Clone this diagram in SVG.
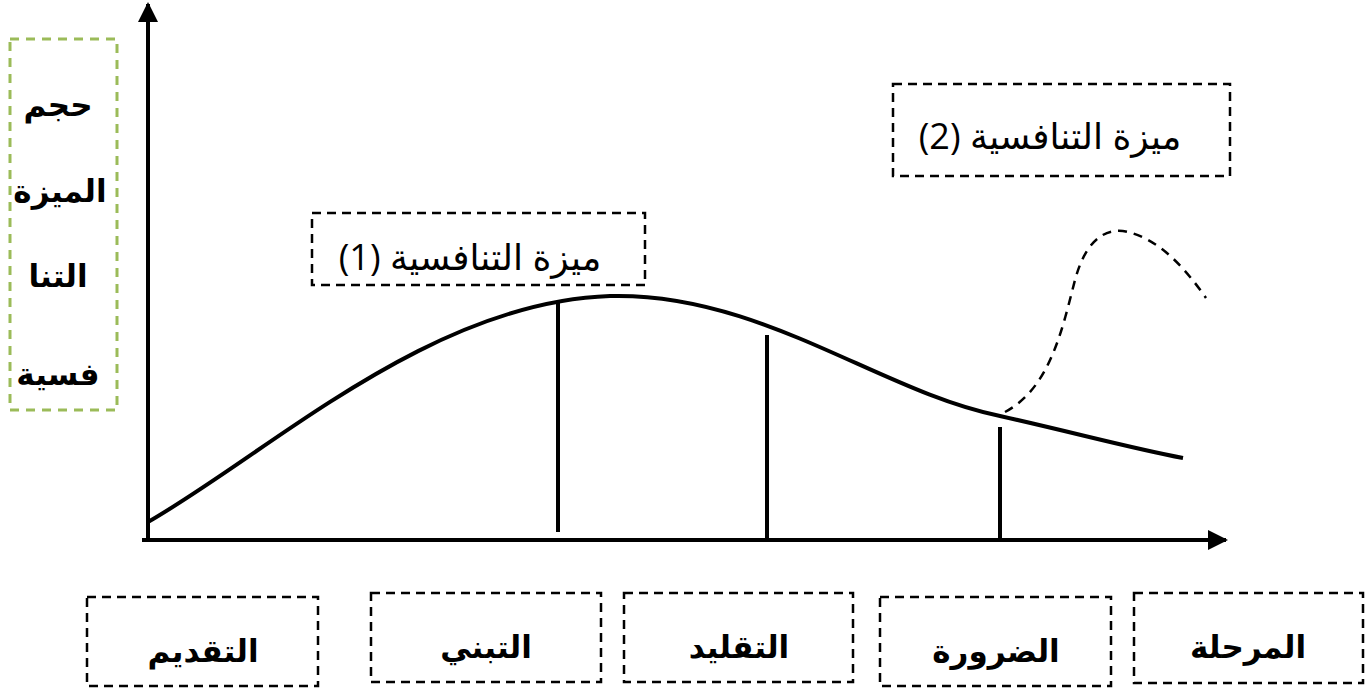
<svg xmlns="http://www.w3.org/2000/svg" width="1372" height="690" viewBox="0 0 1372 690">
<style>
.box{fill:none;stroke:#000;stroke-width:2.5;stroke-dasharray:9,6}
.gbox{fill:none;stroke:#9BBB59;stroke-width:3;stroke-dasharray:9,7}
.bt{font-family:"Liberation Sans","DejaVu Sans","Noto Sans",sans-serif;font-weight:bold;font-size:31px;text-anchor:middle;fill:#000}
.rt{font-family:"Open Sans","Noto Sans","DejaVu Sans",sans-serif;font-size:36px;text-anchor:middle;fill:#000}
.ax{stroke:#000;stroke-width:4;fill:none}
</style>
<defs>
<marker id="ah" viewBox="0 0 10 10" refX="9" refY="5" markerWidth="5" markerHeight="5" markerUnits="strokeWidth" orient="auto">
<path d="M0,0 L10,5 L0,10 Z" fill="#000"/>
</marker>
</defs>
<g id="connectors">
<line class="ax" x1="148" y1="542" x2="148" y2="4" marker-end="url(#ah)"/>
<line class="ax" x1="142" y1="540" x2="1226" y2="540" marker-end="url(#ah)"/>
<path class="ax" d="M148,522 C270,452 430,302 610,296 C760,292 880,392 1000,416 C1080,434 1130,448 1183,458"/>
<line class="ax" x1="558" y1="303" x2="558" y2="532"/>
<line class="ax" x1="767" y1="335" x2="767" y2="538"/>
<line class="ax" x1="1000" y1="427" x2="1000" y2="540"/>
<path d="M1005,412 C1050,388 1062,330 1075,280 C1088,232 1112,228 1128,232 C1160,240 1185,268 1206,298" fill="none" stroke="#000" stroke-width="2.5" stroke-dasharray="9,7"/>
</g>
<g id="ylabel">
<rect class="gbox" x="10" y="39" width="107" height="371"/>
<text class="bt" x="58" y="116">حجم</text>
<text class="bt" x="60" y="202">الميزة</text>
<text class="bt" x="58" y="287">التنا</text>
<text class="bt" x="58" y="385">فسية</text>
</g>
<g id="adv1">
<rect class="box" x="312" y="213" width="333" height="72"/>
<text class="rt" x="470" y="270">ميزة التنافسية (1)</text>
</g>
<g id="adv2">
<rect class="box" x="893" y="84" width="337" height="92"/>
<text class="rt" x="1050" y="149">ميزة التنافسية (2)</text>
</g>
<g id="s1">
<rect class="box" x="87" y="597" width="231" height="89"/>
<text class="bt" x="203" y="662">التقديم</text>
</g>
<g id="s2">
<rect class="box" x="371" y="593" width="230" height="89"/>
<text class="bt" x="486" y="658">التبني</text>
</g>
<g id="s3">
<rect class="box" x="624" y="593" width="229" height="89"/>
<text class="bt" x="739" y="658">التقليد</text>
</g>
<g id="s4">
<rect class="box" x="880" y="597" width="231" height="89"/>
<text class="bt" x="996" y="662">الضرورة</text>
</g>
<g id="s5">
<rect class="box" x="1134" y="593" width="229" height="90"/>
<text class="bt" x="1248" y="658">المرحلة</text>
</g>
</svg>
